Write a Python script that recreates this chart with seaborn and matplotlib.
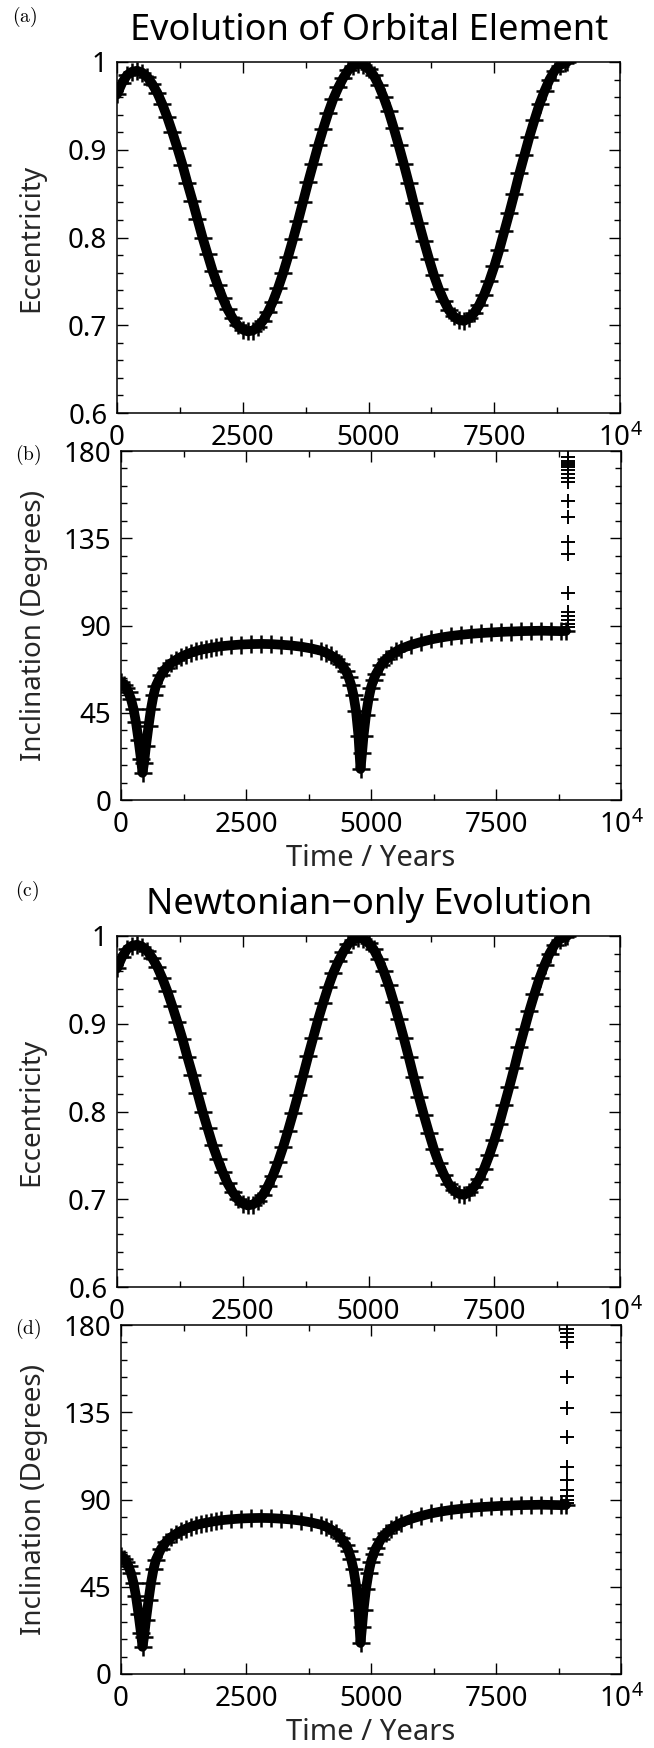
import matplotlib
matplotlib.use("Agg")
import matplotlib.pyplot as plt
from matplotlib.ticker import MultipleLocator, FixedLocator
import numpy as np
import pandas as pd
import seaborn as sns

# ---------------- data ----------------
ecc_years = [0, 100, 200, 300, 400, 500, 600, 700, 800, 900,
             1000, 1100, 1200, 1300, 1400, 1500, 1600, 1700, 1800, 1900,
             2000, 2100, 2200, 2300, 2400, 2500, 2600, 2700, 2800, 2900,
             3000, 3100, 3200, 3300, 3400, 3500, 3600, 3700, 3800, 3900,
             4000, 4100, 4200, 4300, 4400, 4500, 4600, 4700, 4800, 4900,
             5000, 5100, 5200, 5300, 5400, 5500, 5600, 5700, 5800, 5900,
             6000, 6100, 6200, 6300, 6400, 6500, 6600, 6700, 6800, 6900,
             7000, 7100, 7200, 7300, 7400, 7500, 7600, 7700, 7800, 7900,
             8000, 8100, 8200, 8300, 8400, 8500, 8600, 8700, 8800, 8900, 8950]
eccentricity = [0.963, 0.976, 0.985, 0.989, 0.990, 0.988, 0.983, 0.975, 0.965, 0.952,
                0.937, 0.920, 0.902, 0.883, 0.862, 0.842, 0.821, 0.800, 0.781, 0.762,
                0.746, 0.731, 0.718, 0.708, 0.700, 0.695, 0.693, 0.694, 0.698, 0.705,
                0.715, 0.727, 0.742, 0.759, 0.778, 0.798, 0.819, 0.841, 0.863, 0.884,
                0.905, 0.924, 0.942, 0.958, 0.971, 0.982, 0.991, 0.996, 0.998, 0.997,
                0.992, 0.985, 0.974, 0.960, 0.944, 0.925, 0.905, 0.884, 0.862, 0.839,
                0.817, 0.796, 0.776, 0.757, 0.741, 0.728, 0.717, 0.710, 0.706, 0.705,
                0.708, 0.714, 0.723, 0.735, 0.750, 0.767, 0.786, 0.807, 0.828, 0.850,
                0.873, 0.894, 0.915, 0.934, 0.952, 0.967, 0.980, 0.990, 0.996, 0.999, 1.000]

inc_years = [0, 50, 100, 150, 200, 250, 300, 350, 400, 430, 460, 500, 550, 600, 650,
             700, 800, 900, 1000, 1100, 1200, 1300, 1400, 1500, 1600, 1700, 1800,
             1900, 2000, 2200, 2400, 2600, 2800, 3000, 3200, 3400, 3600, 3800, 4000,
             4100, 4200, 4300, 4400, 4500, 4550, 4600, 4650, 4700, 4750, 4790, 4820,
             4850, 4900, 4950, 5000, 5050, 5100, 5200, 5300, 5400, 5500, 5600, 5800,
             6000, 6200, 6400, 6600, 6800, 7000, 7200, 7400, 7600, 7800, 8000, 8200,
             8400, 8600, 8800, 8900]
inclination = [61, 59.5, 58, 55.5, 52, 47, 40, 31, 21, 14, 19, 28, 38, 47, 54,
               59, 64.5, 68, 70.5, 72.3, 73.8, 75, 76, 76.8, 77.5, 78, 78.5,
               78.9, 79.3, 79.8, 80.2, 80.4, 80.5, 80.4, 80.1, 79.7, 79.1, 78.2, 77,
               76, 74.6, 72.8, 70.2, 66.5, 63.5, 59.5, 54, 46, 33, 16, 24,
               33, 44, 52, 58, 62, 65, 69.5, 72.5, 74.8, 76.6, 78, 80,
               81.5, 82.8, 83.8, 84.6, 85.2, 85.7, 86.1, 86.4, 86.7, 86.9, 87.1, 87.2,
               87.3, 87.2, 87.1, 87.2]

# final orbit flip (last few outputs before the run stops)
flip_year_full = 8940
flip_inc_full = [89, 91, 93, 95, 97, 107, 127, 133, 146, 154, 164, 166, 168,
                 170, 172, 173, 174, 175, 177]
flip_year_newton = 8910
flip_inc_newton = [88, 90, 92, 95, 100, 107, 122, 137, 153, 171, 174, 176, 178]

time_ticks = [0, 2500, 5000, 7500, 10000]
time_labels = ["0", "2500", "5000", "7500", "10$^4$"]
ecc_ticks = [0.6, 0.7, 0.8, 0.9, 1.0]
ecc_labels = ["0.6", "0.7", "0.8", "0.9", "1"]
inc_ticks = [0, 45, 90, 135, 180]
inc_labels = ["0", "45", "90", "135", "180"]

# ---------------- style ----------------
sns.set_theme(style="ticks")
plt.rcParams["font.family"] = ["Noto Sans", "DejaVu Sans"]
plt.rcParams["font.weight"] = "light"
plt.rcParams["mathtext.fontset"] = "custom"
plt.rcParams["mathtext.rm"] = "Noto Sans:light"
plt.rcParams["mathtext.it"] = "Noto Sans:light"
plt.rcParams["text.color"] = "black"
plt.rcParams["axes.edgecolor"] = "black"
plt.rcParams["axes.linewidth"] = 1.1
plt.rcParams["xtick.color"] = "black"
plt.rcParams["ytick.color"] = "black"

W, H = 654, 1748
fig = plt.figure(figsize=(W / 100, H / 100), dpi=100)


def rect(l, t, r, b):
    return [l / W, 1 - b / H, (r - l) / W, (b - t) / H]


def style_axes(ax, ylabels_at, ylabels, yminor):
    ax.set_xlim(0, 10000)
    ax.xaxis.set_major_locator(FixedLocator(time_ticks))
    ax.set_xticklabels(time_labels)
    ax.xaxis.set_minor_locator(MultipleLocator(1250))
    ax.yaxis.set_major_locator(FixedLocator(ylabels_at))
    ax.set_yticklabels(ylabels)
    ax.yaxis.set_minor_locator(MultipleLocator(yminor))
    ax.tick_params(which="both", direction="in", top=True, right=True,
                   width=1.0, colors="black")
    ax.tick_params(which="major", length=8, labelsize=20)
    ax.tick_params(axis="x", which="major", pad=8)
    ax.tick_params(axis="y", which="major", pad=7)
    ax.tick_params(which="minor", length=4.3)
    for s in ax.spines.values():
        s.set_visible(True)
        s.set_linewidth(1.1)


def draw_band(ax, df, y):
    sns.lineplot(data=df, x="t", y=y, ax=ax, color="black", linewidth=7.0,
                 estimator=None, sort=False)
    sns.scatterplot(data=df, x="t", y=y, ax=ax, marker="+", s=150,
                    color="black", linewidth=1.8)


def draw_ecc(ax):
    df = pd.DataFrame({"t": ecc_years, "e": eccentricity})
    draw_band(ax, df, "e")
    ax.set_ylim(0.6, 1.0)
    style_axes(ax, ecc_ticks, ecc_labels, 0.02)
    ax.set_xlabel("")
    ax.set_ylabel("Eccentricity", fontsize=20)
    ax.yaxis.set_label_coords(-0.170, 0.5)
    ax.yaxis.label.set_va("center")


def draw_inc(ax, flip_year, flip_inc):
    df = pd.DataFrame({"t": inc_years, "i": inclination})
    draw_band(ax, df, "i")
    flip = pd.DataFrame({"t": [flip_year] * len(flip_inc), "i": flip_inc})
    sns.scatterplot(data=flip, x="t", y="i", ax=ax, marker="+", s=90,
                    color="black", linewidth=1.4)
    ax.set_ylim(0, 180)
    style_axes(ax, inc_ticks, inc_labels, 9)
    ax.set_xlabel("Time / Years", fontsize=21)
    ax.xaxis.set_label_coords(0.5, -0.169)
    ax.xaxis.label.set_va("center")
    ax.set_ylabel("Inclination (Degrees)", fontsize=20)
    ax.yaxis.set_label_coords(-0.174, 0.5)
    ax.yaxis.label.set_va("center")


OFF = 874
ax_a = fig.add_axes(rect(117, 62, 620, 413))
ax_b = fig.add_axes(rect(121, 451, 621, 800))
ax_c = fig.add_axes(rect(117, 62 + OFF, 620, 413 + OFF))
ax_d = fig.add_axes(rect(121, 451 + OFF, 621, 800 + OFF))

draw_ecc(ax_a)
draw_inc(ax_b, flip_year_full, flip_inc_full)
draw_ecc(ax_c)
draw_inc(ax_d, flip_year_newton, flip_inc_newton)


def fig_text(x, y, s, **kw):
    fig.text(x / W, 1 - y / H, s, **kw)


panel_kw = dict(fontsize=14, ha="left", va="center", math_fontfamily="cm")
fig_text(12, 17, r"$\mathrm{(a)}$", **panel_kw)
fig_text(15, 455, r"$\mathrm{(b)}$", **panel_kw)
fig_text(15, 17 + OFF, r"$\mathrm{(c)}$", **panel_kw)
fig_text(15, 455 + OFF, r"$\mathrm{(d)}$", **panel_kw)

fig_text(369, 31, "Evolution of Orbital Element", fontsize=26,
         ha="center", va="center")
fig_text(369, 31 + OFF, "Newtonian\u2212only Evolution", fontsize=26,
         ha="center", va="center")

fig.savefig("out.png", dpi=100)
